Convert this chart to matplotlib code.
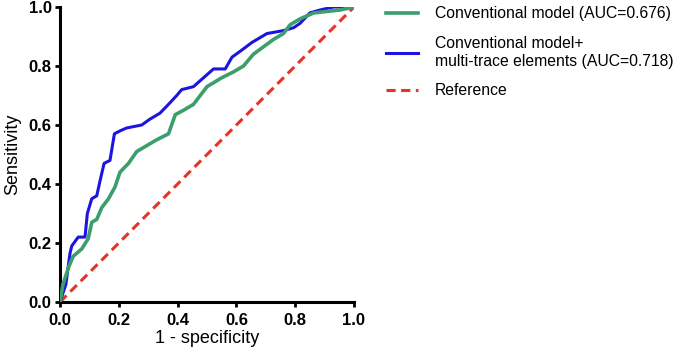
import matplotlib
matplotlib.use("Agg")
import matplotlib.pyplot as plt

plt.rcParams['font.family'] = ['Liberation Sans', 'DejaVu Sans']

# ROC curve points (1 - specificity, sensitivity)
conv_fpr = [0.0, 0.01, 0.03, 0.045, 0.074, 0.096, 0.108, 0.125, 0.142, 0.165,
            0.187, 0.204, 0.233, 0.261, 0.295, 0.329, 0.369, 0.392, 0.42, 0.454,
            0.477, 0.5, 0.55, 0.59, 0.624, 0.658, 0.692, 0.726, 0.76, 0.783,
            0.817, 0.863, 0.908, 0.953, 1.0]
conv_tpr = [0.0, 0.06, 0.12, 0.155, 0.18, 0.215, 0.27, 0.28, 0.32, 0.35,
            0.39, 0.44, 0.47, 0.51, 0.53, 0.55, 0.57, 0.635, 0.65, 0.67,
            0.70, 0.73, 0.76, 0.78, 0.80, 0.84, 0.865, 0.89, 0.91, 0.94,
            0.96, 0.98, 0.985, 0.99, 1.0]

multi_fpr = [0.0, 0.02, 0.034, 0.04, 0.062, 0.085, 0.093, 0.108, 0.125, 0.136,
             0.15, 0.17, 0.185, 0.204, 0.227, 0.278, 0.306, 0.34, 0.369, 0.397,
             0.414, 0.454, 0.488, 0.522, 0.562, 0.585, 0.613, 0.653, 0.704, 0.76,
             0.795, 0.817, 0.85, 0.885, 0.93, 1.0]
multi_tpr = [0.0, 0.06, 0.165, 0.19, 0.22, 0.22, 0.30, 0.35, 0.36, 0.41,
             0.47, 0.48, 0.57, 0.58, 0.59, 0.60, 0.62, 0.64, 0.67, 0.70,
             0.72, 0.73, 0.76, 0.79, 0.79, 0.83, 0.85, 0.88, 0.91, 0.92,
             0.93, 0.945, 0.98, 0.99, 1.0, 1.0]

ref_x = [0.0, 1.0]
ref_y = [0.0, 1.0]

labels = ['Conventional model (AUC=0.676)',
          'Conventional model+\nmulti-trace elements (AUC=0.718)',
          'Reference']
tick_vals = [0, 0.2, 0.4, 0.6, 0.8, 1.0]
tick_text = ['0.0', '0.2', '0.4', '0.6', '0.8', '1.0']

fig = plt.figure(figsize=(6.75, 3.5), dpi=100)
ax = fig.add_axes([60 / 675, 48 / 350, 294 / 675, 295 / 350])

ax.plot(conv_fpr, conv_tpr, color='#3c9e6c', lw=2.6, label=labels[0], zorder=3)
ax.plot(multi_fpr, multi_tpr, color='#1c14e0', lw=2.2, label=labels[1], zorder=2)
ax.plot(ref_x, ref_y, color='#e8332b', lw=2.2, ls=(0, (3, 1.8)), label=labels[2], zorder=1)

ax.set_xlim(0, 1)
ax.set_ylim(0, 1)
ax.set_xticks(tick_vals)
ax.set_yticks(tick_vals)
ax.set_xticklabels(tick_text, fontsize=12, fontweight='bold')
ax.set_yticklabels(tick_text, fontsize=12, fontweight='bold')
for s in ['top', 'right']:
    ax.spines[s].set_visible(False)
for s in ['left', 'bottom']:
    ax.spines[s].set_linewidth(2.2)
ax.tick_params(width=2, length=3.6, pad=2.5)
ax.tick_params(axis='x', pad=4)
ax.set_xlabel('1 - specificity', fontsize=13, labelpad=2)
ax.set_ylabel('Sensitivity', fontsize=13, labelpad=5)

fig.legend(loc='upper left', bbox_to_anchor=(380 / 675, 1.0),
           frameon=False, fontsize=11.3, handlelength=2.05, handletextpad=1.05,
           labelspacing=0.95, borderaxespad=0)

fig.savefig('out.png', dpi=100)
